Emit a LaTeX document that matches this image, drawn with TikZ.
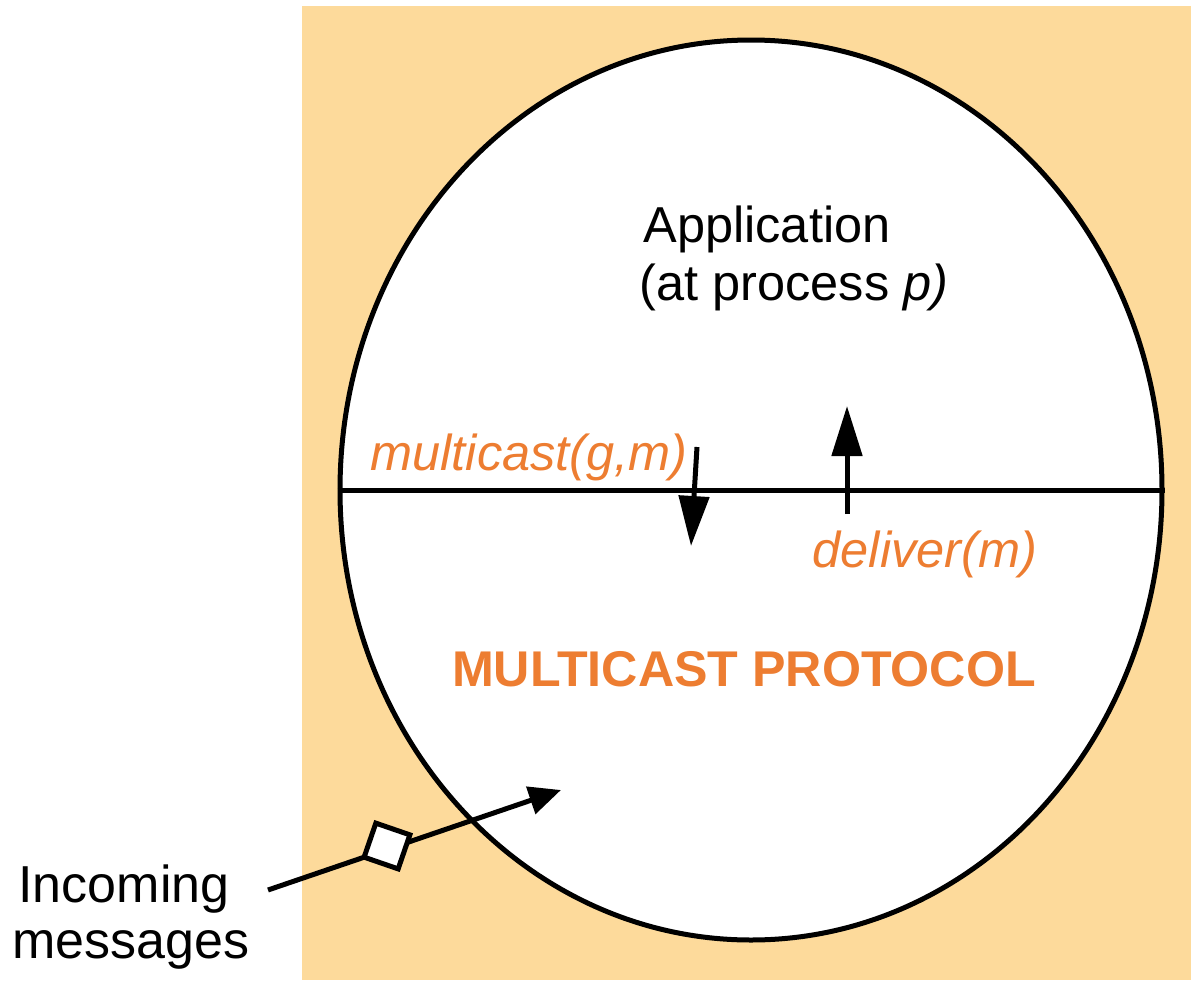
\documentclass[tikz,border=0pt]{standalone}
\usepackage{fontspec}
\setmainfont{Liberation Sans}
\usetikzlibrary{arrows.meta,shapes.geometric}
\definecolor{peach}{RGB}{253,218,155}
\definecolor{protoorange}{RGB}{237,125,49}
\begin{document}
\begin{tikzpicture}[x=1pt,y=-1pt,
  lbl/.style={inner sep=0pt,anchor=base,font=\fontsize{50.5}{60}\selectfont},
  olbl/.style={lbl,text=protoorange,font=\fontsize{50.5}{60}\selectfont\itshape},
  thick line/.style={line width=5pt},
  bigtip/.style={-{Triangle[length=50pt,width=30pt]},line width=5pt}]
\useasboundingbox (0,0) rectangle (1191,980);
% process area
\fill[peach] (302,6) rectangle (1191,980);
% process boundary
\node[draw,thick line,fill=white,ellipse,minimum width=822pt,minimum height=900pt,inner sep=0pt] (proc) at (751,490) {};
% layer separator
\draw[thick line] (proc.west) -- (proc.east);
% labels
\node[lbl] (app) at (767,242) {Application};
\node[lbl] (atp) at (794,300) {(at process \textit{p)}};
\node[olbl] (mc) at (529,470) {multicast(g,m)};
\node[olbl] (dl) at (925,567) {deliver(m)};
\node[lbl,text=protoorange,font=\fontsize{50.2}{60}\selectfont\bfseries] (mp) at (744,686) {MULTICAST PROTOCOL};
\node[lbl,font=\fontsize{52}{60}\selectfont] (inc) at (124,902) {Incoming};
\node[lbl,font=\fontsize{52}{60}\selectfont] (msgs) at (131,958) {messages};
% down and up calls
\coordinate (dA) at (697,447);
\coordinate (dB) at (691,546);
\draw[bigtip] (dA) -- (dB);
\coordinate (uA) at (847,514);
\coordinate (uB) at (847,406);
\draw[bigtip] (uA) -- (uB);
% incoming message
\coordinate (iA) at (268,890);
\coordinate (iB) at (561,790);
\draw[line width=5pt,-{Triangle[length=32pt,width=28pt]}] (iA) -- (iB);
\node[draw,line width=5pt,fill=white,minimum size=36pt,inner sep=0pt,rotate=-19] (msg) at (387,846) {};
\end{tikzpicture}
\end{document}
